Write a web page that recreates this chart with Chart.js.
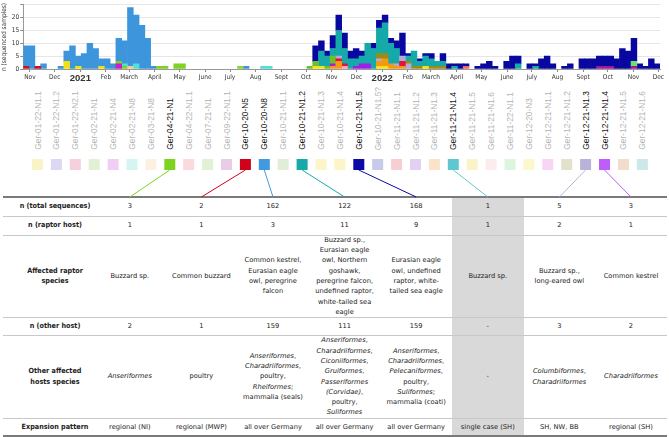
<!DOCTYPE html>
<html>
<head>
<meta charset="utf-8">
<script src="https://cdn.jsdelivr.net/npm/chart.js@4.4.1/dist/chart.umd.min.js"></script>
<style>
  html, body { margin: 0; padding: 0; background: #fff; }
  #page { position: relative; width: 669px; height: 437px; overflow: hidden; }
  #chartBox { position: absolute; left: 0; top: 0; width: 669px; height: 84px; }
  .geno { position: absolute; bottom: 287px; width: 10px; line-height: 10px;
          font-family: "Liberation Sans", Arial, sans-serif; font-size: 8.4px;
          writing-mode: vertical-rl; transform: rotate(180deg); white-space: nowrap; color: #b4b4b4; }
  .geno.on { color: #111; }
  .cell { position: absolute; display: flex; align-items: center; justify-content: center;
          text-align: center; font-family: "DejaVu Sans", sans-serif; font-size: 6.7px;
          line-height: 10.3px; color: #222; white-space: nowrap; }
  .cell.head { font-family: "DejaVu Sans Condensed", "DejaVu Sans", sans-serif; font-stretch: condensed;
               font-weight: bold; font-size: 7.2px; }
  .hline { position: absolute; left: 3px; width: 664px; height: 1px; background: #c8c8c8; }
  .hline.rule { height: 1.5px; background: #7a7a7a; }
  svg { position: absolute; left: 0; top: 0; }
</style>
</head>
<body>
<div id="page">
  <div id="chartBox"><canvas id="weekly"></canvas></div>
  <div id="lower"></div>
  <svg id="links" width="669" height="437"></svg>
</div>
<script>
// weekly bars, week 0 starts 24 Oct 2020; values are [week, n]
const ger1020n5 = [[0,1],[2,1]];
const ger1220n3 = [[7,3],[9,1],[13,1]];
const ger0221n4 = [[16,2]];
const ger0321n8 = [[18,1]];
const ger0221n1 = [[16,1],[17,1]];
const ger0221n8 = [[17,1],[19,2],[41,1],[42,1]];
const ger0421n1 = [[23,1],[24,1],[26,2],[27,2]];
const ger0721n1 = [[37,1]];
const ger1021n13 = [[50,1],[51,1],[61,1],[62,1],[69,1]];
const ger1121n13 = [[53,1],[54,3],[61,2],[62,3],[63,2],[64,1],[65,1]];
const ger1121n16 = [[55,1]];
const ger1121n11 = [[54,1],[55,1],[65,2]];
const ger1121n12 = [[53,1],[57,1],[58,2],[59,2]];
const ger1021n11 = [[49,1],[50,2],[52,1],[53,3]];
const ger1221n13 = [[54,1],[61,1],[64,1],[65,2],[66,2]];
const ger1221n12 = [[61,2],[62,2],[66,1],[67,1],[68,1],[70,1],[71,1],[72,1]];
const ger0422n11 = [[76,1]];
const ger0922n11 = [[99,1],[100,1],[101,1],[105,1]];
const ger1122n11 = [[105,2]];
const ger1020n8 = [[0,8],[1,9],[3,2],[6,1],[7,4],[8,9],[9,4],[10,6],[11,10],[12,8],[13,3],[14,4],
  [15,2],[16,9],[17,9],[18,23],[19,19],[20,17],[21,12],[22,1],[38,1]];
const ger1021n12 = [[51,6],[52,4],[53,3],[54,10],[55,6],[56,4],[57,3],[58,3],[59,8],[60,8],[61,10],
  [62,12],[63,8],[64,6],[66,2],[67,6],[68,2],[69,4],[70,3],[71,2],[72,2],[74,1],[85,2],[88,1]];
const ger1021n15 = [[50,6],[51,4],[52,2],[53,5],[54,6],[55,6],[56,3],[57,4],[58,2],[60,2],[61,3],
  [62,3],[63,2],[64,3],[65,9],[66,1],[68,1],[69,1],[70,2],[72,3],[73,2],[74,1],[75,2],[76,1],[78,1],
  [79,2],[80,3],[81,1],[83,3],[84,5],[85,3],[87,2],[88,1],[89,4],[90,5],[91,2],[93,1],[94,2],[96,4],
  [97,4],[98,4],[99,4],[100,4],[101,4],[102,4],[103,8],[104,7],[105,9],[106,2],[107,1],[108,4],[109,2]];

const monthLabels = ['Nov','Dec','2021','Feb','March','April','May','June','July','Aug','Sept','Oct',
  'Nov','Dec','2022','Feb','March','April','May','June','July','Aug','Sept','Oct','Nov','Dec'];

// genotype strip
const genoLabels = ['Ger-01-22-N1.1','Ger-01-22-N1.2','Ger-01-22-N2.1','Ger-02-21-N1','Ger-02-21-N4',
  'Ger-02-21-N8','Ger-03-21-N8','Ger-04-21-N1','Ger-04-22-N1.1','Ger-07-21-N1','Ger-09-22-N1.1',
  'Ger-10-20-N5','Ger-10-20-N8','Ger-10-21-N1.1','Ger-10-21-N1.2','Ger-10-21-N1.3','Ger-10-21-N1.4',
  'Ger-10-21-N1.5','Ger-10-21-N1.5?','Ger-11-21-N1.1','Ger-11-21-N1.2','Ger-11-21-N1.3','Ger-11-21-N1.4',
  'Ger-11-21-N1.5','Ger-11-21-N1.6','Ger-11-22-N1.1','Ger-12-20-N3','Ger-12-21-N1.1','Ger-12-21-N1.2',
  'Ger-12-21-N1.3','Ger-12-21-N1.4','Ger-12-21-N1.5','Ger-12-21-N1.6'];
const genoColors = ['#f9f4c6','#dcd8f4','#f6d0dc','#e2f1d4','#efd0f4','#d6f4f1','#fcf0e0','#7ed321',
  '#fadadd','#e2f1d4','#e9cce8','#d0021b','#3f9ae0','#e0eed7','#17a9a9','#fbf5c8','#fbf5c8','#0a0aa5',
  '#c9c9ec','#f7cfd2','#e3d0f5','#fbe3c8','#5ec8d0','#faf3c8','#fcecee','#dcf5dc','#fbf7cf','#f8d5f5',
  '#e2e2cc','#b9b3da','#bf5dfc','#f2dccb','#cde8e8'];

// table
const tableGenotypes = ['Ger-04-21-N1','Ger-10-20-N5','Ger-10-20-N8','Ger-10-21-N1.2','Ger-10-21-N1.5',
  'Ger-11-21-N1.4','Ger-12-21-N1.3','Ger-12-21-N1.4'];
const rowHeads = ['n (total sequences)','n (raptor host)','Affected raptor<br>species','n (other host)',
  'Other affected<br>hosts species','Expansion pattern'];
const totalSeq = [3, 2, 162, 122, 168, 1, 5, 3];
const raptorHost = [1, 1, 3, 11, 9, 1, 2, 1];
const raptorSpecies = ['Buzzard sp.','Common buzzard',
  'Common kestrel,<br>Eurasian eagle<br>owl, peregrine<br>falcon',
  'Buzzard sp.,<br>Eurasian eagle<br>owl, Northern<br>goshawk,<br>peregrine falcon,<br>undefined raptor,<br>white-tailed sea<br>eagle',
  'Eurasian eagle<br>owl, undefined<br>raptor, white-<br>tailed sea eagle',
  'Buzzard sp.','Buzzard sp.,<br>long-eared owl','Common kestrel'];
const otherHost = ['2','1','159','111','159','-','3','2'];
const otherSpecies = ['<i>Anseriformes</i>','poultry',
  '<i>Anseriformes</i>,<br><i>Charadriiformes</i>,<br>poultry,<br><i>Rheiformes</i>;<br>mammalia (seals)',
  '<i>Anseriformes</i>,<br><i>Charadriiformes</i>,<br><i>Ciconiiformes</i>,<br><i>Gruiformes</i>,<br><i>Passeriformes</i><br><i>(Corvidae)</i>,<br>poultry,<br><i>Suliformes</i>',
  '<i>Anseriformes</i>,<br><i>Charadriiformes</i>,<br><i>Pelecaniformes</i>,<br>poultry,<br><i>Suliformes</i>;<br>mammalia (coati)',
  '-','<i>Columbiformes</i>,<br><i>Charadriiformes</i>','<i>Charadriiformes</i>'];
const expansion = ['regional (NI)','regional (MWP)','all over Germany','all over Germany','all over Germany',
  'single case (SH)','SH, NW, BB','regional (SH)'];
const shadedGenotype = 'Ger-11-21-N1.4';

// ---- chart ----
const series = [
  ['Ger-10-20-N5', ger1020n5, '#d0101e'],
  ['Ger-12-20-N3', ger1220n3, '#f0e010'],
  ['Ger-02-21-N4', ger0221n4, '#c81ed0'],
  ['Ger-03-21-N8', ger0321n8, '#f5c894'],
  ['Ger-02-21-N1', ger0221n1, '#80d020'],
  ['Ger-02-21-N8', ger0221n8, '#4ce0d8'],
  ['Ger-04-21-N1', ger0421n1, '#7ed321'],
  ['Ger-07-21-N1', ger0721n1, '#8fd630'],
  ['Ger-10-21-N1.3', ger1021n13, '#f2e21a'],
  ['Ger-11-21-N1.3', ger1121n13, '#f59a10'],
  ['Ger-11-21-N1.6', ger1121n16, '#f7a8b8'],
  ['Ger-11-21-N1.1', ger1121n11, '#e2143c'],
  ['Ger-11-21-N1.2', ger1121n12, '#a01ee6'],
  ['Ger-10-21-N1.1', ger1021n11, '#6cc02a'],
  ['Ger-12-21-N1.3', ger1221n13, '#b4aad8'],
  ['Ger-12-21-N1.2', ger1221n12, '#9c8c12'],
  ['Ger-04-22-N1.1', ger0422n11, '#f06a6a'],
  ['Ger-09-22-N1.1', ger0922n11, '#a0189a'],
  ['Ger-11-22-N1.1', ger1122n11, '#6ee06e'],
  ['Ger-10-20-N8', ger1020n8, '#3d96dc'],
  ['Ger-10-21-N1.2', ger1021n12, '#16a9a9'],
  ['Ger-10-21-N1.5', ger1021n15, '#0808a0']
];

const weekZero = Date.UTC(2020, 9, 24);
const monthTicks = monthLabels.map(function(l, i) {
  const y = 2020 + Math.floor((10 + i) / 12), m = (10 + i) % 12;
  return (Date.UTC(y, m, 1) - weekZero) / (7 * 864e5);
});

const smallFont = { family: '"DejaVu Sans Condensed", "DejaVu Sans", sans-serif', size: 6.5 };
const yearFont = { family: '"Liberation Sans", Arial, sans-serif', size: 9.5, weight: 'bold' };

new Chart(document.getElementById('weekly'), {
  type: 'bar',
  data: {
    datasets: series.map(function(s) {
      return {
        label: s[0],
        data: s[1].map(function(p) { return { x: p[0] + 0.5, y: p[1] }; }),
        backgroundColor: s[2],
        borderWidth: 0,
        barPercentage: 1,
        categoryPercentage: 1
      };
    })
  },
  options: {
    responsive: true,
    maintainAspectRatio: false,
    animation: false,
    layout: { padding: { top: 1, right: 9, left: 0, bottom: 0 } },
    plugins: { legend: { display: false }, tooltip: { enabled: false } },
    scales: {
      x: {
        type: 'linear', min: 0, max: 110, stacked: true, offset: false,
        grid: { offset: false, drawOnChartArea: false, color: '#888', tickLength: 3 },
        border: { color: '#999' },
        afterBuildTicks: function(axis) { axis.ticks = monthTicks.map(function(v) { return { value: v }; }); },
        afterFit: function(axis) { axis.height = 15; },
        ticks: {
          autoSkip: false, maxRotation: 0, padding: 1, color: '#333',
          callback: function(v, i) { return monthLabels[i]; },
          font: function(ctx) {
            return (ctx.tick && /^20/.test(ctx.tick.label)) ? yearFont : smallFont;
          }
        }
      },
      y: {
        stacked: true, min: 0, max: 25,
        grid: { color: '#e6e6e6', tickColor: '#888', tickLength: 3 },
        border: { color: '#999' },
        afterFit: function(axis) { axis.width = 23.3; },
        ticks: {
          stepSize: 5, padding: 1, color: '#333', font: smallFont,
          callback: function(v) { return v === 25 ? '' : v; }
        },
        title: { display: true, text: 'n (sequenced samples)', color: '#333', font: smallFont,
                 padding: { top: 0, bottom: 1 } }
      }
    }
  }
});

// ---- genotype strip, links and table ----
const lower = document.getElementById('lower');
const svg = document.getElementById('links');
const NS = 'http://www.w3.org/2000/svg';
const sqX = function(i) { return 37.5 + 18.9 * i; };
const colLeft = function(k) { return 94 + 71.6 * k; };
const colW = 71.6;
const rowEdges = [197, 216, 235, 317, 335, 418, 436];

// shaded column
const shadeK = tableGenotypes.indexOf(shadedGenotype);
const shade = document.createElement('div');
shade.style.cssText = 'position:absolute;background:#d9d9d9;left:' + colLeft(shadeK) + 'px;top:' +
  rowEdges[0] + 'px;width:' + colW + 'px;height:' + (rowEdges[6] - rowEdges[0]) + 'px';
lower.appendChild(shade);

genoLabels.forEach(function(g, i) {
  const on = tableGenotypes.indexOf(g) >= 0;
  const d = document.createElement('div');
  d.className = 'geno' + (on ? ' on' : '');
  d.style.left = (sqX(i) - 5) + 'px';
  d.textContent = g;
  lower.appendChild(d);

  const r = document.createElementNS(NS, 'rect');
  r.setAttribute('x', sqX(i) - 5.5);
  r.setAttribute('y', 159);
  r.setAttribute('width', 11);
  r.setAttribute('height', 11);
  r.setAttribute('fill', genoColors[i]);
  svg.appendChild(r);

  if (on) {
    const k = tableGenotypes.indexOf(g);
    const ln = document.createElementNS(NS, 'line');
    ln.setAttribute('x1', sqX(i));
    ln.setAttribute('y1', 170);
    ln.setAttribute('x2', colLeft(k) + colW / 2);
    ln.setAttribute('y2', rowEdges[0]);
    ln.setAttribute('stroke', genoColors[i]);
    ln.setAttribute('stroke-width', 1);
    svg.appendChild(ln);
  }
});

function addCell(cls, left, width, top, height, html) {
  const c = document.createElement('div');
  c.className = cls;
  c.style.cssText = 'left:' + left + 'px;width:' + width + 'px;top:' + top + 'px;height:' + height + 'px';
  c.innerHTML = '<div>' + html + '</div>';
  lower.appendChild(c);
}

const rows = [totalSeq, raptorHost, raptorSpecies, otherHost, otherSpecies, expansion];
rows.forEach(function(vals, r) {
  const top = rowEdges[r], h = rowEdges[r + 1] - rowEdges[r];
  addCell('cell head', 16, 78, top, h, rowHeads[r]);
  vals.forEach(function(v, k) {
    addCell('cell', colLeft(k), colW, top, h, String(v));
  });
});

rowEdges.forEach(function(y, i) {
  const l = document.createElement('div');
  const edge = (i === 0 || i === rowEdges.length - 1);
  l.className = 'hline' + (edge ? ' rule' : '');
  l.style.top = (edge ? y - 0.75 : y) + 'px';
  lower.appendChild(l);
});
</script>
</body>
</html>
